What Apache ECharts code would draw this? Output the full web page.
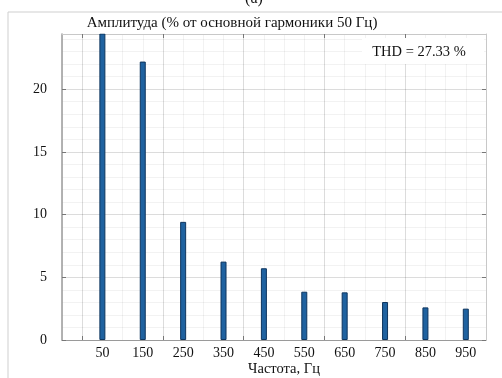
<!DOCTYPE html>
<html>
<head>
<meta charset="utf-8">
<script src="https://cdn.jsdelivr.net/npm/echarts@6/dist/echarts.min.js"></script>
<style>html,body{margin:0;padding:0;background:#fff}#c{width:502px;height:378px}</style>
</head>
<body>
<div id="c"></div>
<script>
const freqs = [50, 150, 250, 350, 450, 550, 650, 750, 850, 950];
const amps = [100, 22.2, 9.42, 6.25, 5.72, 3.85, 3.8, 3.03, 2.6, 2.5];
const xLabelValues = [50, 150, 250, 350, 450, 550, 650, 750, 850, 950];
const xMajorTicks = [0, 200, 400, 600, 800];
const yTicks = [0, 5, 10, 15, 20];
const titleText = 'Амплитуда (% от основной гармоники 50 Гц)';
const xName = 'Частота, Гц';
const thdText = 'THD = 27.33 %';
const panelText = '(а)';

const FONT = '"Liberation Serif", "DejaVu Serif", serif';
const chart = echarts.init(document.getElementById('c'), null, {renderer: 'canvas'});
const XMIN = -50, XMAX = 1000, YMIN = 0, YMAX = 24.4;
const majorLine = 'rgba(0,0,0,0.09)';
const minorLine = 'rgba(0,0,0,0.05)';
const axisGrey = '#9a9a9a';

chart.setOption({
  animation: false,
  backgroundColor: '#fff',
  grid: {left: 62, right: 16, top: 34, bottom: 38, containLabel: false},
  xAxis: [
    {
      type: 'value', position: 'bottom', min: XMIN, max: XMAX, interval: 100,
      axisLine: {show: true, onZero: false, lineStyle: {color: axisGrey, width: 1}},
      axisTick: {show: true, inside: true, length: 4, customValues: xMajorTicks, lineStyle: {color: '#777'}},
      axisLabel: {
        show: true, customValues: xLabelValues, margin: 6,
        color: '#111', fontFamily: FONT, fontSize: 14
      },
      splitLine: {show: false}
    },
    {
      type: 'value', position: 'top', min: XMIN, max: XMAX,
      axisLine: {show: true, onZero: false, lineStyle: {color: '#c8c8c8', width: 1}},
      axisTick: {show: true, inside: true, length: 4, customValues: xMajorTicks, lineStyle: {color: '#777'}},
      axisLabel: {show: false},
      splitLine: {show: true, lineStyle: {color: majorLine, width: 1}}
    },
    {
      type: 'value', position: 'top', min: XMIN, max: XMAX, interval: 50,
      axisLine: {show: false}, axisTick: {show: false}, axisLabel: {show: false},
      splitLine: {show: true, lineStyle: {color: minorLine, width: 1}}
    }
  ],
  yAxis: [
    {
      type: 'value', position: 'left', min: YMIN, max: YMAX, interval: 5,
      axisLine: {show: true, onZero: false, lineStyle: {color: axisGrey, width: 1.5}},
      axisTick: {show: true, inside: true, length: 4, customValues: yTicks, lineStyle: {color: '#777'}},
      axisLabel: {
        show: true, customValues: yTicks, margin: 15,
        color: '#111', fontFamily: FONT, fontSize: 14
      },
      splitLine: {show: true, lineStyle: {color: majorLine, width: 1}}
    },
    {
      type: 'value', position: 'right', min: YMIN, max: YMAX, interval: 5,
      axisLine: {show: true, onZero: false, lineStyle: {color: '#c8c8c8', width: 1}},
      axisTick: {show: true, inside: true, length: 4, customValues: yTicks, lineStyle: {color: '#777'}},
      axisLabel: {show: false},
      splitLine: {show: false}
    },
    {
      type: 'value', position: 'left', min: YMIN, max: YMAX, interval: 1,
      axisLine: {show: false}, axisTick: {show: false}, axisLabel: {show: false},
      splitLine: {show: true, lineStyle: {color: minorLine, width: 1}}
    }
  ],
  series: [{
    type: 'bar',
    xAxisIndex: 0, yAxisIndex: 0,
    barWidth: 6,
    clip: true,
    data: freqs.map((f, i) => [f, amps[i]]),
    itemStyle: {color: '#1f62a0', borderColor: '#0e355e', borderWidth: 1}
  }],
  graphic: [
    {type: 'rect', z: 100, silent: true,
     shape: {x: 8, y: 12, width: 600, height: 500},
     style: {fill: 'none', stroke: '#cfcfcf', lineWidth: 1}},
    {type: 'rect', z: 101, silent: true,
     shape: {x: 78, y: 13, width: 302, height: 20.5},
     style: {fill: '#fff'}},
    {type: 'text', z: 102, silent: true, x: 232, y: 23,
     style: {text: titleText, fill: '#111', font: '15px ' + FONT, textAlign: 'center', textVerticalAlign: 'middle'}},
    {type: 'rect', z: 101, silent: true,
     shape: {x: 362, y: 38, width: 122, height: 26},
     style: {fill: '#fff'}},
    {type: 'text', z: 102, silent: true, x: 419, y: 52,
     style: {text: thdText, fill: '#111', font: '14.5px ' + FONT, textAlign: 'center', textVerticalAlign: 'middle'}},
    {type: 'text', z: 102, silent: true, x: 254, y: 7,
     style: {text: panelText, fill: '#111', font: '16px ' + FONT, textAlign: 'center', textVerticalAlign: 'bottom'}},
    {type: 'text', z: 102, silent: true, x: 284, y: 369,
     style: {text: xName, fill: '#111', font: '14.5px ' + FONT, textAlign: 'center', textVerticalAlign: 'middle'}}
  ]
});
</script>
</body>
</html>
